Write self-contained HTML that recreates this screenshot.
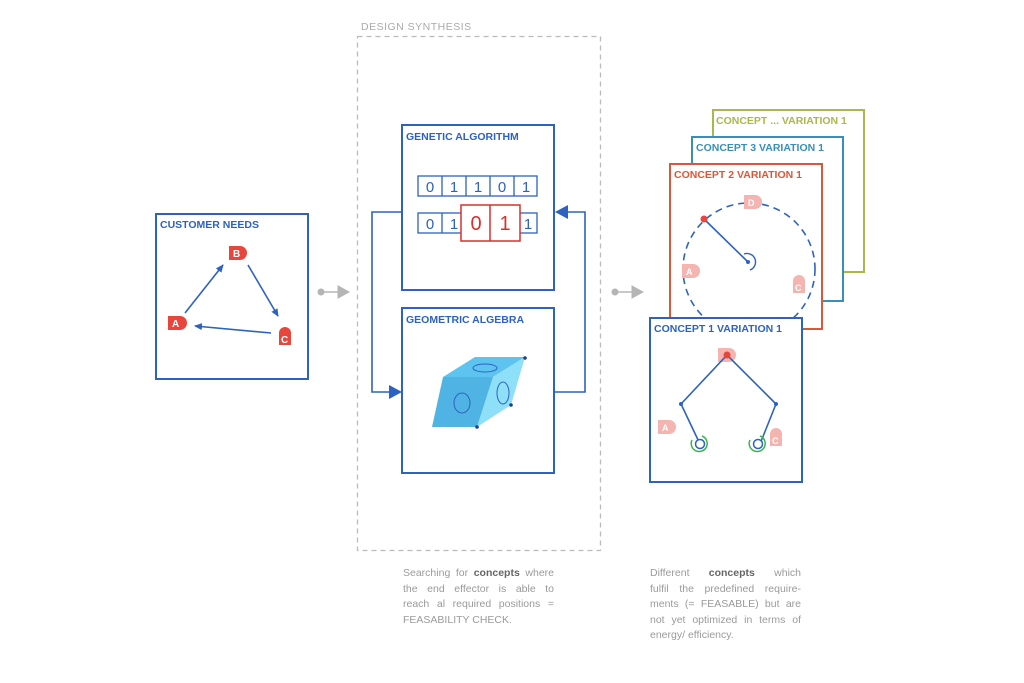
<!DOCTYPE html>
<html><head><meta charset="utf-8"><style>
body{margin:0;background:#fff;width:1024px;height:683px;overflow:hidden;font-family:"Liberation Sans",sans-serif}
.t{font-family:"Liberation Sans",sans-serif;font-weight:bold;font-size:10.5px}
.p{position:absolute;font-size:10.5px;color:#9a9a9a;line-height:15.5px;width:151px}
.p div{text-align:justify;text-align-last:justify;white-space:nowrap;display:flex;justify-content:space-between}
.p div.l{justify-content:flex-start;gap:4px}
</style></head><body>
<svg width="1024" height="683" style="position:absolute;left:0;top:0" xmlns="http://www.w3.org/2000/svg">
<defs>
<marker id="ar" markerWidth="8" markerHeight="8" refX="7" refY="4" orient="auto" markerUnits="userSpaceOnUse"><path d="M0,0.5 L8,4 L0,7.5Z" fill="#2d62c0"/></marker>
</defs>
<rect x="357.5" y="36.5" width="243" height="514" fill="none" stroke="#bbb" stroke-width="1.3" stroke-dasharray="5,4"/>
<text x="361" y="30" font-size="10.5" fill="#aaa" style="letter-spacing:0.5px">DESIGN SYNTHESIS</text>
<rect x="156" y="214" width="152" height="165" fill="none" stroke="#2d62c0" stroke-width="2"/>
<text x="160" y="228" class="t" fill="#2d62c0">CUSTOMER NEEDS</text>
<line x1="185" y1="313" x2="223" y2="265" stroke="#2d62c0" stroke-width="1.6" marker-end="url(#ar)"/>
<line x1="248" y1="265" x2="278" y2="316" stroke="#2d62c0" stroke-width="1.6" marker-end="url(#ar)"/>
<line x1="271" y1="333" x2="195" y2="326" stroke="#2d62c0" stroke-width="1.6" marker-end="url(#ar)"/>
<path d="M229,246 h11 a7,7 0 0 1 0,14 h-11z" fill="#e8463c"/><text x="233" y="257" font-size="10" font-weight="bold" fill="#fff">B</text>
<path d="M168,316 h12 a7,7 0 0 1 0,14 h-12z" fill="#e8463c"/><text x="172" y="327" font-size="10" font-weight="bold" fill="#fff">A</text>
<path d="M279,345 v-12 a6,6 0 0 1 12,0 v12z" fill="#e8463c"/><text x="281" y="343" font-size="10" font-weight="bold" fill="#fff">C</text>
<g fill="#b5b5b5" stroke="#b5b5b5"><circle cx="321" cy="292" r="3"/><line x1="321" y1="292" x2="338" y2="292" stroke-width="1.5"/><path d="M338,286 L349,292 L338,298Z"/></g>
<g fill="#b5b5b5" stroke="#b5b5b5"><circle cx="615" cy="292" r="3"/><line x1="615" y1="292" x2="632" y2="292" stroke-width="1.5"/><path d="M632,286 L643,292 L632,298Z"/></g>
<rect x="402" y="125" width="152" height="165" fill="none" stroke="#2d62c0" stroke-width="2"/>
<text x="406" y="140" class="t" fill="#2d62c0">GENETIC ALGORITHM</text>
<g stroke="#2d62c0" stroke-width="1.3" fill="none">
<rect x="418" y="176" width="119" height="20"/><line x1="442" y1="176" x2="442" y2="196"/><line x1="466" y1="176" x2="466" y2="196"/><line x1="490" y1="176" x2="490" y2="196"/><line x1="514" y1="176" x2="514" y2="196"/>
<rect x="418" y="213" width="119" height="20"/><line x1="442" y1="213" x2="442" y2="233"/>
</g>
<g font-size="15" fill="#2d62c0" text-anchor="middle"><text x="430" y="192">0</text><text x="454" y="192">1</text><text x="478" y="192">1</text><text x="502" y="192">0</text><text x="526" y="192">1</text>
<text x="430" y="229">0</text><text x="454" y="229">1</text><text x="528" y="229">1</text></g>
<rect x="461" y="205" width="59" height="36" fill="#fff" stroke="#d8312d" stroke-width="1.5"/><line x1="490" y1="205" x2="490" y2="241" stroke="#d8312d" stroke-width="1.5"/>
<g font-size="20" fill="#d8312d" text-anchor="middle"><text x="476" y="230">0</text><text x="505" y="230">1</text></g>
<polyline points="402,212 372,212 372,392 394,392" fill="none" stroke="#2d62c0" stroke-width="1.6"/>
<path d="M389,385 L402,392 L389,399Z" fill="#2d62c0"/>
<polyline points="554,392 585,392 585,212 566,212" fill="none" stroke="#2d62c0" stroke-width="1.6"/>
<path d="M568,205 L555,212 L568,219Z" fill="#2d62c0"/>
<rect x="402" y="308" width="152" height="165" fill="none" stroke="#2d62c0" stroke-width="2"/>
<text x="406" y="323" class="t" fill="#2d62c0">GEOMETRIC ALGEBRA</text>
<path d="M443,377 L475,357 L525,357 L493,377Z" fill="#5cc4ee"/>
<path d="M493,377 L525,357 L511,405 L477,427Z" fill="#8de0f8"/>
<path d="M443,377 L493,377 L477,427 L432,427Z" fill="#4fb4e4"/>
<g fill="none" stroke="#2d62c0" stroke-width="1"><ellipse cx="485" cy="368" rx="12" ry="4"/><ellipse cx="503" cy="393" rx="6" ry="11"/><ellipse cx="462" cy="403" rx="8" ry="10"/></g>
<g fill="#1d3f8a"><circle cx="525" cy="358" r="1.8"/><circle cx="511" cy="405" r="1.8"/><circle cx="477" cy="427" r="1.8"/></g>
<rect x="713" y="110" width="151" height="162" fill="#fff" stroke="#a9b84a" stroke-width="2"/>
<text x="716" y="124" class="t" fill="#a9b84a">CONCEPT ... VARIATION 1</text>
<rect x="692" y="137" width="151" height="164" fill="#fff" stroke="#3a8fb8" stroke-width="2"/>
<text x="696" y="151" class="t" fill="#3a8fb8">CONCEPT 3 VARIATION 1</text>
<rect x="670" y="164" width="152" height="165" fill="#fff" stroke="#d9583a" stroke-width="2"/>
<text x="674" y="178" class="t" fill="#d9583a">CONCEPT 2 VARIATION 1</text>
<circle cx="749" cy="269" r="66" fill="none" stroke="#2d62c0" stroke-width="1.6" stroke-dasharray="7,5"/>
<line x1="704" y1="219" x2="748" y2="262" stroke="#2d62c0" stroke-width="1.6"/>
<circle cx="704" cy="219" r="3.5" fill="#e8463c"/><circle cx="748" cy="262" r="2" fill="#2d62c0"/>
<path d="M744,254 a8,8 0 1 1 6,16" fill="none" stroke="#2d62c0" stroke-width="1.4"/>
<g fill="#f4b4b0"><path d="M744,195 h11 a7,7 0 0 1 0,14 h-11z"/><path d="M682,264 h11 a7,7 0 0 1 0,14 h-11z"/><path d="M793,293 v-12 a6,6 0 0 1 12,0 v12z"/></g>
<g font-size="9" font-weight="bold" fill="#fff"><text x="748" y="206">D</text><text x="686" y="275">A</text><text x="795" y="291">C</text></g>
<rect x="650" y="318" width="152" height="164" fill="#fff" stroke="#2d62c0" stroke-width="2"/>
<text x="654" y="332" class="t" fill="#2d62c0">CONCEPT 1 VARIATION 1</text>
<g fill="#f4b4b0"><path d="M718,348 h11 a7,7 0 0 1 0,14 h-11z"/><path d="M658,420 h11 a7,7 0 0 1 0,14 h-11z"/><path d="M770,446 v-12 a6,6 0 0 1 12,0 v12z"/></g>
<g font-size="9" font-weight="bold" fill="#fff"><text x="662" y="431">A</text><text x="772" y="444">C</text></g>
<polyline points="700,444 681,404 727,355 776,404 760,444" fill="none" stroke="#2d62c0" stroke-width="1.6"/>
<circle cx="727" cy="355" r="3.5" fill="#e8463c"/><circle cx="681" cy="404" r="2" fill="#2d62c0"/><circle cx="776" cy="404" r="2" fill="#2d62c0"/>
<circle cx="700" cy="444" r="4.5" fill="#fff" stroke="#2d62c0" stroke-width="1.5"/><circle cx="758" cy="444" r="4.5" fill="#fff" stroke="#2d62c0" stroke-width="1.5"/>
<path d="M692,440 a8,8 0 1 0 10,-4" fill="none" stroke="#3ab54a" stroke-width="1.5"/>
<path d="M750,440 a8,8 0 1 0 10,-4" fill="none" stroke="#3ab54a" stroke-width="1.5"/>
</svg>
<div class="p" style="left:403px;top:566px">
<div><span>Searching</span><span>for</span><b style="color:#666">concepts</b><span>where</span></div>
<div><span>the</span><span>end</span><span>effector</span><span>is</span><span>able</span><span>to</span></div>
<div><span>reach</span><span>al</span><span>required</span><span>positions</span><span>=</span></div>
<div class="l"><span>FEASABILITY CHECK.</span></div>
</div>
<div class="p" style="left:650px;top:566px">
<div><span>Different</span><b style="color:#666">concepts</b><span>which</span></div>
<div><span>fulfil</span><span>the</span><span>predefined</span><span>require-</span></div>
<div><span>ments</span><span>(=</span><span>FEASABLE)</span><span>but</span><span>are</span></div>
<div><span>not</span><span>yet</span><span>optimized</span><span>in</span><span>terms</span><span>of</span></div>
<div class="l"><span>energy/ efficiency.</span></div>
</div>
</body></html>
